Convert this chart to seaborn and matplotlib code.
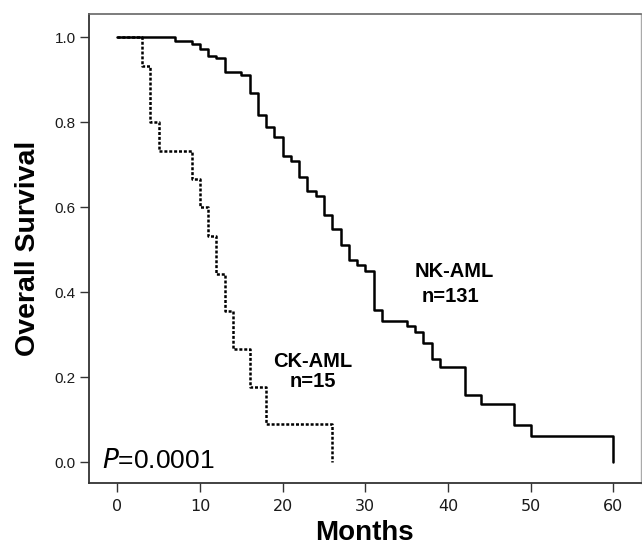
import matplotlib
matplotlib.use("Agg")
import matplotlib.pyplot as plt
import seaborn as sns
import pandas as pd

# Kaplan-Meier step data
nk_time = [0, 7, 9, 10, 11, 12, 13, 15, 16, 17, 18, 19, 20, 21, 22, 23, 24, 25, 26,
           27, 28, 29, 30, 31, 32, 35, 36, 37, 38, 39, 42, 44, 48, 50, 60]
nk_surv = [1.0, 0.992, 0.983, 0.973, 0.957, 0.950, 0.918, 0.910, 0.868, 0.818, 0.788,
           0.766, 0.721, 0.709, 0.672, 0.638, 0.626, 0.581, 0.548, 0.512, 0.475, 0.463,
           0.451, 0.359, 0.333, 0.321, 0.306, 0.280, 0.244, 0.225, 0.158, 0.136, 0.087,
           0.063, 0.0]
ck_time = [0, 3, 4, 5, 9, 10, 11, 12, 13, 14, 16, 18, 26]
ck_surv = [1.0, 0.933, 0.800, 0.733, 0.667, 0.600, 0.533, 0.444, 0.355, 0.266, 0.178,
           0.089, 0.0]

x_ticks = [0, 10, 20, 30, 40, 50, 60]
y_ticks = [0.0, 0.2, 0.4, 0.6, 0.8, 1.0]
y_ticklabels = ["0.0", "0.2", "0.4", "0.6", "0.8", "1.0"]

nk_df = pd.DataFrame({"Months": nk_time, "Survival": nk_surv})
ck_df = pd.DataFrame({"Months": ck_time, "Survival": ck_surv})

sns.set_style("white")
plt.rcParams["font.family"] = ["Liberation Sans", "DejaVu Sans"]
plt.rcParams["text.color"] = "black"
plt.rcParams["axes.labelcolor"] = "black"

fig = plt.figure(figsize=(6.42, 5.47), dpi=100)
ax = fig.add_axes([0.1386, 0.1170, 0.998 - 0.1386, 0.9739 - 0.1170])

sns.lineplot(data=nk_df, x="Months", y="Survival", ax=ax, color="black",
             linewidth=1.8, drawstyle="steps-post", estimator=None, sort=False)
sns.lineplot(data=ck_df, x="Months", y="Survival", ax=ax, color="black",
             linewidth=1.8, drawstyle="steps-post", estimator=None, sort=False,
             linestyle=(0, (1.2, 0.75)))

ax.set_xlim(-3.42, 63.3)
ax.set_ylim(-0.0487, 1.054)
ax.set_xticks(x_ticks)
ax.set_xticklabels([str(t) for t in x_ticks], fontsize=11.5, family="DejaVu Sans",
                   color="#1a1a1a")
ax.set_yticks(y_ticks)
ax.set_yticklabels(y_ticklabels, fontsize=11, color="#1a1a1a")
ax.tick_params(axis="both", direction="out", length=6.5, width=1.0, color="#333333",
               left=True, bottom=True, pad=3)
ax.tick_params(axis="x", pad=5)

for side in ["left", "bottom"]:
    ax.spines[side].set_color("#333333")
    ax.spines[side].set_linewidth(1.3)
ax.spines["top"].set_color("#666666")
ax.spines["top"].set_linewidth(1.2)
ax.spines["right"].set_color("#aaaaaa")
ax.spines["right"].set_linewidth(1.0)

ax.set_xlabel("Months", fontsize=20, fontweight="bold", labelpad=4)
ax.set_ylabel("Overall Survival", fontsize=20.5, fontweight="bold", labelpad=10)

ax.text(36.0, 0.437, "NK-AML", fontsize=14.5, fontweight="bold", ha="left",
        va="baseline")
ax.text(36.8, 0.378, "n=131", fontsize=14.5, fontweight="bold", ha="left",
        va="baseline")
ax.text(23.6, 0.225, "CK-AML", fontsize=14.5, fontweight="bold", ha="center",
        va="baseline")
ax.text(23.6, 0.178, "n=15", fontsize=14.5, fontweight="bold", ha="center",
        va="baseline")
ax.text(-1.9, -0.014, "$\\mathit{P}$=0.0001", fontsize=19, ha="left", va="baseline")

fig.savefig("out.png", dpi=100)
